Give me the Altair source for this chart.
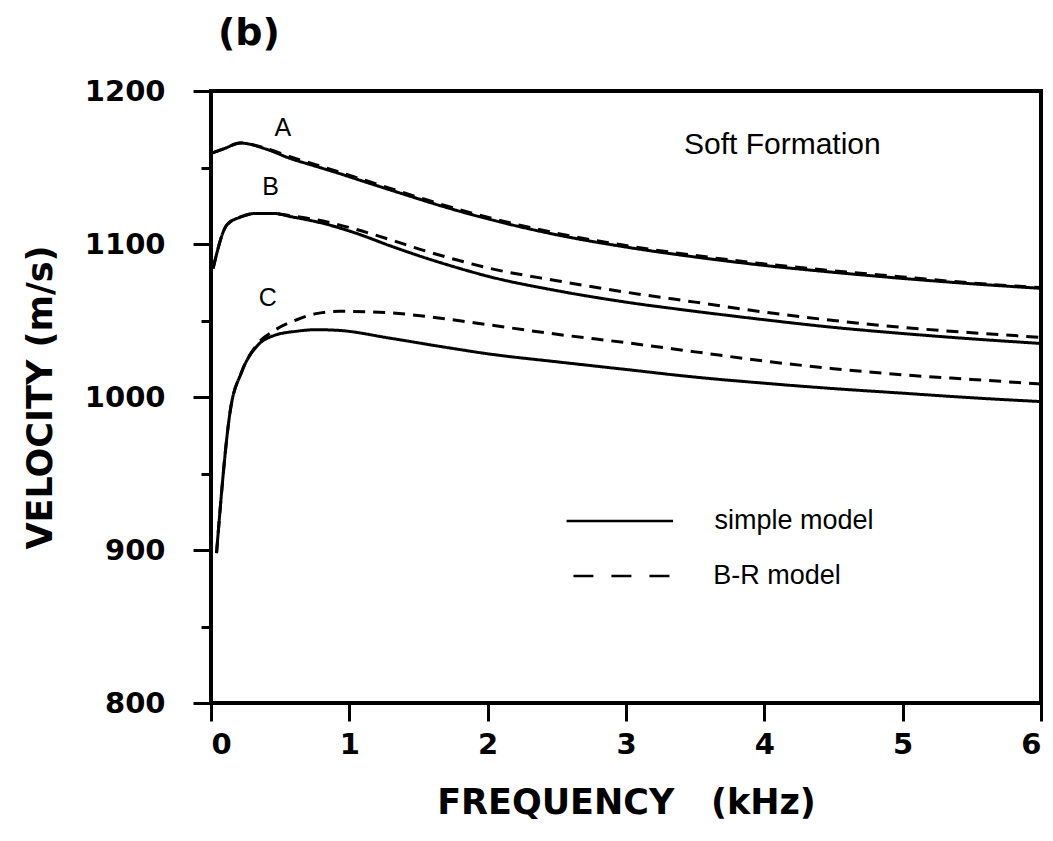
import altair as alt
import pandas as pd

# ---- data ----
freq_A = [0.01, 0.1, 0.21, 0.4, 0.57, 0.75, 0.93, 1.1, 1.29, 1.5, 1.66, 2.02, 2.5, 3.0, 3.5, 4.0, 4.5, 5.0, 5.5, 6.0]
A_simple = [1159.5, 1162.5, 1166, 1162, 1156, 1151, 1146, 1141, 1135.5, 1129.5, 1125, 1116, 1106, 1098, 1091.5, 1086, 1081.5, 1077.5, 1074, 1071]
A_br = [1159.5, 1162.5, 1166, 1162.5, 1157, 1152, 1147, 1142, 1136.5, 1130.5, 1126, 1117, 1107, 1099, 1092.5, 1087, 1082.5, 1078.5, 1074.5, 1071.5]

freq_B = [0.015, 0.115, 0.21, 0.33, 0.45, 0.57, 0.81, 1.05, 1.29, 1.53, 1.78, 2.02, 2.5, 3.0, 3.5, 4.0, 4.5, 5.0, 5.5, 6.0]
B_simple = [1084, 1112.5, 1117.5, 1120, 1120, 1118, 1113.5, 1107, 1099, 1091.5, 1084.5, 1078.5, 1069.5, 1062, 1056, 1050.5, 1045.5, 1041.5, 1038, 1035]
B_br = [1084, 1112.5, 1117.5, 1120, 1120, 1118.5, 1115, 1109.5, 1103, 1096, 1089.5, 1084, 1076, 1068.5, 1062, 1055.5, 1050, 1045.5, 1042, 1039]

freq_C = [0.04, 0.14, 0.22, 0.33, 0.45, 0.62, 0.76, 0.93, 1.29, 1.66, 2.02, 2.5, 3.0, 3.5, 4.0, 4.5, 5.0, 5.5, 6.0]
C_simple = [898, 991.5, 1016, 1033, 1040, 1043, 1044, 1043.5, 1038.5, 1033, 1028, 1023, 1018, 1013, 1009, 1005.5, 1002.5, 999.5, 997]
C_br = [898, 991.5, 1016, 1034, 1043, 1050.5, 1054.5, 1056, 1055, 1051.5, 1047, 1041, 1035.5, 1029.5, 1023.5, 1018.5, 1014.5, 1011.5, 1008.5]

curve_labels = ["A", "B", "C"]
label_freq = [0.52, 0.43, 0.41]
label_vel = [1175.5, 1137, 1065]

note_text = ["Soft Formation"]
note_freq = [4.13]
note_vel = [1165]

models = ["simple model", "B-R model"]
legend_x1 = [2.57, 2.62]
legend_x2 = [3.34, 3.37]
legend_y = [919, 883]
legend_text_x = [3.64, 3.63]

y_major = [800, 900, 1000, 1100, 1200]
y_minor = [850, 950, 1050, 1150]
x_ticks = [0, 1, 2, 3, 4, 5, 6]

# ---- build tables ----
rows = []
for name, fr, s, b in [("A", freq_A, A_simple, A_br), ("B", freq_B, B_simple, B_br), ("C", freq_C, C_simple, C_br)]:
    for f, v in zip(fr, s):
        rows.append({"curve": name, "model": "simple model", "freq": f, "vel": v})
    for f, v in zip(fr, b):
        rows.append({"curve": name, "model": "B-R model", "freq": f, "vel": v})
df = pd.DataFrame(rows)
df["series"] = df["curve"] + " " + df["model"]

labels_df = pd.DataFrame({"t": curve_labels, "freq": label_freq, "vel": label_vel})
note_df = pd.DataFrame({"t": note_text, "freq": note_freq, "vel": note_vel})
leg_df = pd.DataFrame({"model": models, "x1": legend_x1, "x2": legend_x2, "y": legend_y, "tx": legend_text_x})

FONT_B = "DejaVu Sans"
FONT = "Liberation Sans"

xscale = alt.Scale(domain=[0, 6], nice=False)
yscale = alt.Scale(domain=[800, 1200], nice=False)

x_enc = alt.X("freq:Q", scale=xscale,
              axis=alt.Axis(values=x_ticks, format="d", title="FREQUENCY\u00a0\u00a0\u00a0(kHz)",
                            grid=False, domain=False, tickSize=18, tickWidth=3, tickColor="black",
                            labelFont=FONT_B, labelFontWeight="bold", labelFontSize=29, labelColor="black",
                            labelPadding=9, titleFont=FONT_B, titleFontWeight="bold", titleFontSize=35,
                            titleColor="black", titlePadding=26))
y_enc = alt.Y("vel:Q", scale=yscale,
              axis=alt.Axis(values=y_major, format="d", title="VELOCITY (m/s)", orient="left",
                            grid=False, domain=False, tickSize=18, tickWidth=3, tickColor="black",
                            labelFont=FONT_B, labelFontWeight="bold", labelFontSize=29, labelColor="black",
                            labelPadding=28, titleFont=FONT_B, titleFontWeight="bold", titleFontSize=35,
                            titleColor="black", titlePadding=26))

lines = alt.Chart(df).mark_line(color="black", strokeWidth=3, interpolate="monotone").encode(
    x=x_enc,
    y=y_enc,
    detail="series:N",
    strokeDash=alt.StrokeDash("model:N", scale=alt.Scale(domain=models, range=[[1, 0], [12, 8]]), legend=None),
)

minor = alt.Chart(pd.DataFrame({"vel": y_minor, "freq": [0] * len(y_minor)})).mark_point(opacity=0).encode(
    x=alt.X("freq:Q", scale=xscale),
    y=alt.Y("vel:Q", scale=yscale,
            axis=alt.Axis(values=y_minor, labels=False, title=None, orient="left", grid=False, domain=False,
                          tickSize=10, tickWidth=3, tickColor="black")),
)

curve_text = alt.Chart(labels_df).mark_text(font=FONT, fontSize=25, color="black").encode(
    x=alt.X("freq:Q", scale=xscale), y=alt.Y("vel:Q", scale=yscale, axis=None), text="t:N")

note = alt.Chart(note_df).mark_text(font=FONT, fontSize=30, color="black").encode(
    x=alt.X("freq:Q", scale=xscale), y=alt.Y("vel:Q", scale=yscale, axis=None), text="t:N")

leg_lines = alt.Chart(leg_df).mark_rule(color="black", strokeWidth=2.5).encode(
    x=alt.X("x1:Q", scale=xscale), x2="x2:Q", y=alt.Y("y:Q", scale=yscale, axis=None),
    strokeDash=alt.StrokeDash("model:N", scale=alt.Scale(domain=models, range=[[1, 0], [20, 18]]), legend=None),
)
leg_text = alt.Chart(leg_df).mark_text(font=FONT, fontSize=27, color="black", align="left").encode(
    x=alt.X("tx:Q", scale=xscale), y=alt.Y("y:Q", scale=yscale, axis=None), text="model:N")

chart = alt.layer(lines, minor, curve_text, note, leg_lines, leg_text).resolve_axis(
    y="independent"
).resolve_scale(strokeDash="independent").properties(
    width=830, height=612,
    padding={"left": 211, "top": 91, "right": 12, "bottom": 138},
    autosize=alt.AutoSizeParams(type="none"),
    background="white",
    title=alt.TitleParams("(b)", anchor="start", frame="group", font=FONT_B, fontWeight="bold", fontSize=38,
                          color="black", offset=24, dx=7),
).configure_view(stroke="black", strokeWidth=4)

chart.save("out.html", embed_options={"renderer": "svg", "actions": False})
